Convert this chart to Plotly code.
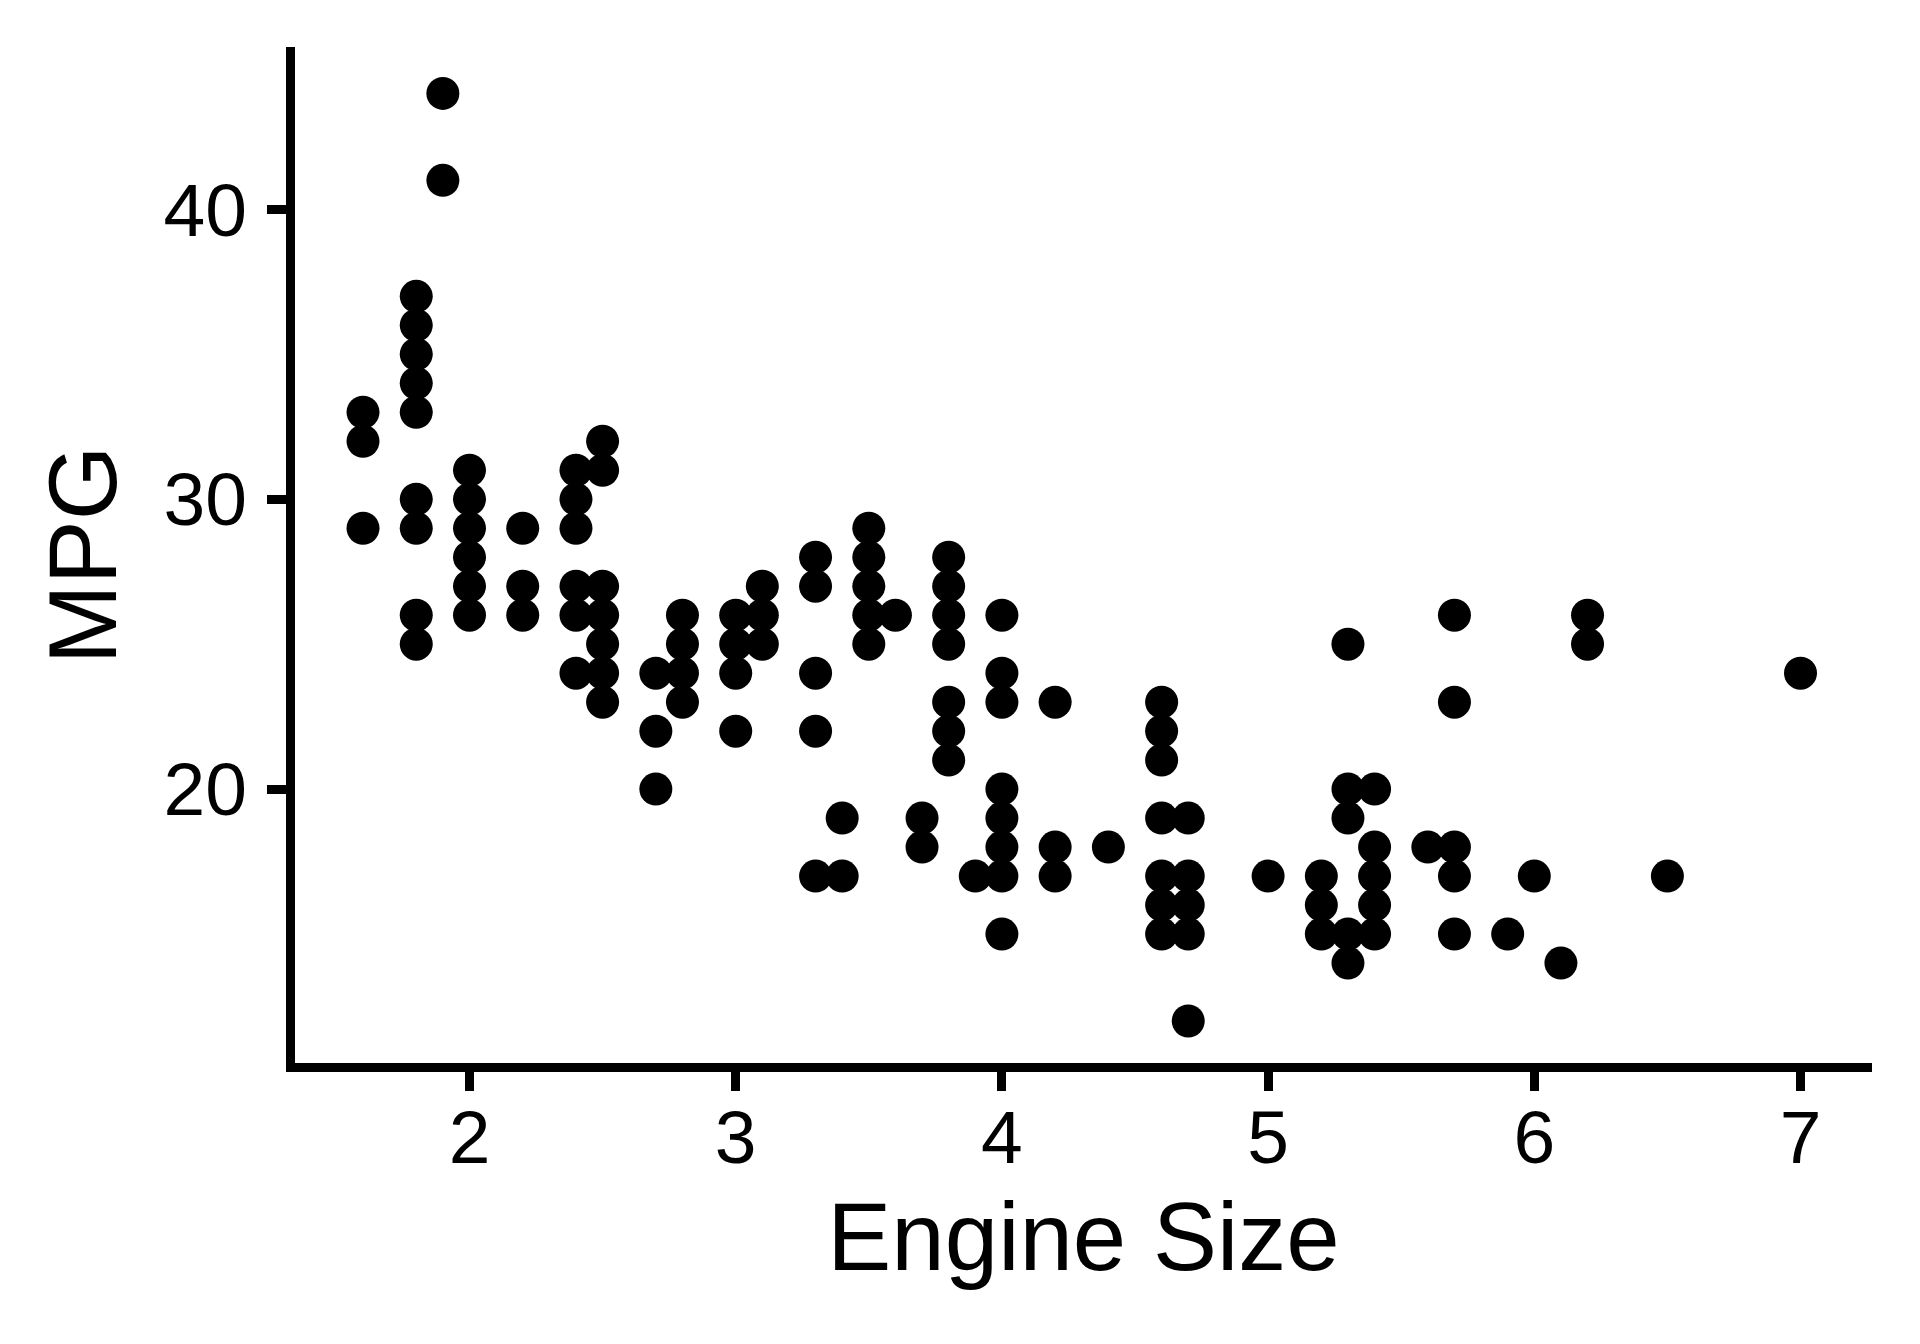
import plotly.graph_objects as go

# Engine size (displacement) and highway MPG
displ = (
    [1.6] * 3 + [1.8] * 9 + [1.9] * 2 + [2.0] * 6 + [2.2] * 3 + [2.4] * 6 + [2.5] * 7
    + [2.7] * 3 + [2.8] * 4 + [3.0] * 4 + [3.1] * 3 + [3.3] * 5 + [3.4] * 2 + [3.5] * 5
    + [3.6] * 1 + [3.7] * 2 + [3.8] * 7 + [3.9] * 1 + [4.0] * 8 + [4.2] * 3 + [4.4] * 1
    + [4.6] * 7 + [4.7] * 5 + [5.0] * 1 + [5.2] * 3 + [5.3] * 5 + [5.4] * 5 + [5.6] * 1
    + [5.7] * 5 + [5.9] * 1 + [6.0] * 1 + [6.1] * 1 + [6.2] * 2 + [6.5] * 1 + [7.0] * 1
)
hwy = (
    [29, 32, 33]
    + [25, 26, 29, 30, 33, 34, 35, 36, 37]
    + [41, 44]
    + [26, 27, 28, 29, 30, 31]
    + [26, 27, 29]
    + [24, 26, 27, 29, 30, 31]
    + [23, 24, 25, 26, 27, 31, 32]
    + [20, 22, 24]
    + [23, 24, 25, 26]
    + [22, 24, 25, 26]
    + [25, 26, 27]
    + [17, 22, 24, 27, 28]
    + [17, 19]
    + [25, 26, 27, 28, 29]
    + [26]
    + [18, 19]
    + [21, 22, 23, 25, 26, 27, 28]
    + [17]
    + [15, 17, 18, 19, 20, 23, 24, 26]
    + [17, 18, 23]
    + [18]
    + [15, 16, 17, 19, 21, 22, 23]
    + [12, 15, 16, 17, 19]
    + [17]
    + [15, 16, 17]
    + [14, 15, 19, 20, 25]
    + [15, 16, 17, 18, 20]
    + [18]
    + [15, 17, 18, 23, 26]
    + [15]
    + [17]
    + [14]
    + [25, 26]
    + [17]
    + [24]
)

x_ticks = [2, 3, 4, 5, 6, 7]
y_ticks = [20, 30, 40]
x_title = "Engine Size"
y_title = "MPG"

FONT = "Liberation Sans, Arial, Helvetica, sans-serif"

fig = go.Figure(
    go.Scatter(
        x=displ,
        y=hwy,
        mode="markers",
        marker=dict(color="black", size=33, line=dict(width=0)),
        showlegend=False,
    )
)

axis_common = dict(
    showline=True,
    linewidth=9,
    linecolor="black",
    ticks="outside",
    ticklen=19,
    tickwidth=9,
    tickcolor="black",
    showgrid=False,
    zeroline=False,
    tickfont=dict(family=FONT, size=75, color="black"),
)

fig.update_layout(
    width=1912,
    height=1336,
    paper_bgcolor="white",
    plot_bgcolor="white",
    margin=dict(l=287, r=48, t=39, b=281),
    font=dict(family=FONT, color="black"),
    xaxis=dict(
        range=[1.3445, 7.2686],
        tickvals=x_ticks,
        ticktext=[str(v) for v in x_ticks],
        ticklabelstandoff=-18,
        title=dict(text=x_title, font=dict(family=FONT, size=96, color="black"), standoff=28),
        **axis_common,
    ),
    yaxis=dict(
        range=[10.552, 45.6],
        tickvals=y_ticks,
        ticktext=[str(v) for v in y_ticks],
        ticklabelstandoff=5,
        title=dict(text=y_title, font=dict(family=FONT, size=96, color="black"), standoff=18),
        **axis_common,
    ),
)

fig.write_html("out.html")
